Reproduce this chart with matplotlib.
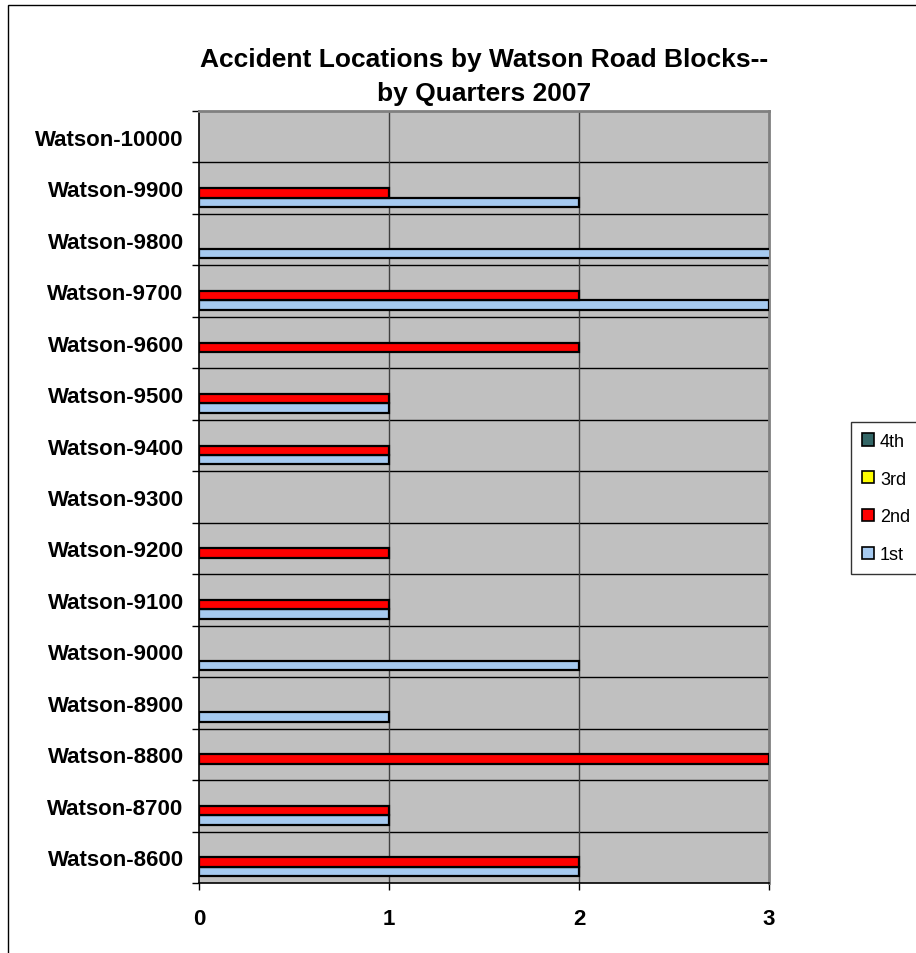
import matplotlib
matplotlib.use("Agg")
import matplotlib.pyplot as plt
import numpy as np
from matplotlib.patches import Rectangle, Patch

plt.rcParams['font.family'] = ['Liberation Sans', 'DejaVu Sans']

categories = ["Watson-8600", "Watson-8700", "Watson-8800", "Watson-8900", "Watson-9000",
              "Watson-9100", "Watson-9200", "Watson-9300", "Watson-9400", "Watson-9500",
              "Watson-9600", "Watson-9700", "Watson-9800", "Watson-9900", "Watson-10000"]
q1 = [2, 1, 0, 1, 2, 1, 0, 0, 1, 1, 0, 3, 4, 2, 0]
q2 = [2, 1, 3, 0, 0, 1, 1, 0, 1, 1, 2, 2, 0, 1, 0]
q3 = [0] * 15
q4 = [0] * 15
series_names = ["1st", "2nd", "3rd", "4th"]
series_colors = ["#A6CAF0", "#FF0000", "#FFFF00", "#336666"]
x_ticks = [0, 1, 2, 3]
title = "Accident Locations by Watson Road Blocks--\nby Quarters 2007"

fig = plt.figure(figsize=(9.16, 9.54), dpi=100)
fig.patch.set_facecolor("white")
# outer chart border
fig.patches.append(Rectangle((8 / 916, -0.1), 1.2, 1.1 - 6 / 954, transform=fig.transFigure,
                             fill=False, edgecolor="black", linewidth=1.0))

ax = fig.add_axes([199 / 916, 70 / 954, 570 / 916, 772 / 954])
ax.set_facecolor("#C0C0C0")

n = len(categories)
y = np.arange(n)
bh = 1 / 5.5
offsets = [-1.5 * bh, -0.5 * bh, 0.5 * bh, 1.5 * bh]
for vals, name, col, off in zip([q1, q2, q3, q4], series_names, series_colors, offsets):
    bars = ax.barh(y + off, vals, height=bh, color=col, edgecolor="black", linewidth=1.6,
                   label=name, zorder=3)
    for p in bars.patches:
        if p.get_width() == 0:
            p.set_visible(False)

handles = [Patch(facecolor=c, edgecolor="black", linewidth=1.2) for c in series_colors]

ax.set_xlim(0, 3)
ax.set_ylim(-0.5, n - 0.5)
ax.set_xticks(x_ticks)
ax.set_xticklabels([str(t) for t in x_ticks], fontsize=16, fontweight="bold")
ax.set_yticks(y)
ax.set_yticklabels(categories, fontsize=16, fontweight="bold")
ax.set_yticks(np.arange(n + 1) - 0.5, minor=True)
ax.tick_params(axis="y", which="major", length=0, pad=11)
ax.tick_params(axis="y", which="minor", length=5, width=1, direction="out", color="black")
ax.tick_params(axis="x", which="major", length=5, width=1, direction="out", pad=13)

ax.grid(False)
for yy in np.arange(1, n) - 0.5:
    ax.axhline(yy, color="black", linewidth=1, zorder=1)
for xx in x_ticks[1:-1]:
    ax.axvline(xx, color="#404040", linewidth=1, zorder=1)

for s in ["left", "bottom"]:
    ax.spines[s].set_color("black")
    ax.spines[s].set_linewidth(1.2)
for s in ["top", "right"]:
    ax.spines[s].set_color("#808080")
    ax.spines[s].set_linewidth(2)

fig.text(484 / 916, 1 - 77 / 954, title, ha="center", va="center", fontsize=19,
         fontweight="bold", linespacing=1.5)

leg = fig.legend(handles[::-1], series_names[::-1], loc="upper left",
                 bbox_to_anchor=(851 / 916, 1 - 423 / 954), frameon=True, fontsize=13,
                 handlelength=0.65, handleheight=0.65, handletextpad=0.35, labelspacing=1.15,
                 borderpad=0.6, borderaxespad=0, fancybox=False)
leg.get_frame().set_edgecolor("black")
leg.get_frame().set_linewidth(1)

fig.savefig("out.png", dpi=100)
